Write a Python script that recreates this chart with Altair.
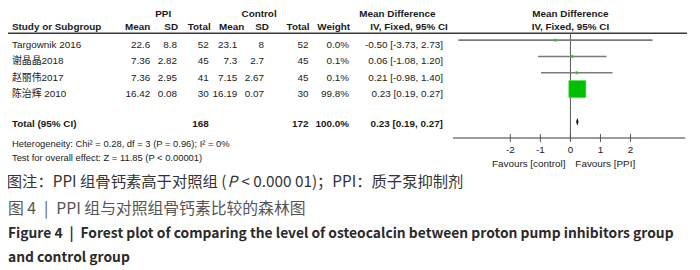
import altair as alt
import pandas as pd

# ---------------- data ----------------
studies   = ["Targownik 2016", "谢晶晶2018", "赵丽伟2017", "陈治辉 2010"]
ppi_mean  = [22.6, 7.36, 7.36, 16.42]
ppi_sd    = [8.8, 2.82, 2.95, 0.08]
ppi_total = [52, 45, 41, 30]
ctl_mean  = [23.1, 7.3, 7.15, 16.19]
ctl_sd    = [8, 2.7, 2.67, 0.07]
ctl_total = [52, 45, 45, 30]
weights   = [0.0, 0.1, 0.1, 99.8]
md        = [-0.50, 0.06, 0.21, 0.23]
ci_low    = [-3.73, -1.08, -0.98, 0.19]
ci_high   = [2.73, 1.20, 1.40, 0.27]

total_ppi, total_ctl = 168, 172
total_weight = 100.0
total_md, total_low, total_high = 0.23, 0.19, 0.27

tick_values = [-2, -1, 0, 1, 2]

heterogeneity = "Heterogeneity: Chi² = 0.28, df = 3 (P = 0.96); I² = 0%"
overall_test = "Test for overall effect: Z = 11.85 (P < 0.00001)"
note_cn_a = "图注：PPI 组骨钙素高于对照组 ("
note_cn_p = "P"
note_cn_b = "< 0.000 01)；PPI：质子泵抑制剂"
title_cn = "图 4\u2002|\u2002PPI 组与对照组骨钙素比较的森林图"
title_en1 = "Figure 4\u2002|\u2002Forest plot of comparing the level of osteocalcin between proton pump inhibitors group"
title_en2 = "and control group"

# ---------------- tables ----------------
def g(v):
    return f"{v:g}"

df = pd.DataFrame({
    "row": list(range(len(studies))),
    "study": studies,
    "pm": [g(v) for v in ppi_mean],
    "ps": [g(v) for v in ppi_sd],
    "pn": [str(v) for v in ppi_total],
    "cm": [g(v) for v in ctl_mean],
    "cs": [g(v) for v in ctl_sd],
    "cn": [str(v) for v in ctl_total],
    "wt": [f"{w:.1f}%" for w in weights],
    "w": weights,
    "ci": [f"{m:.2f} [{l:.2f}, {h:.2f}]" for m, l, h in zip(md, ci_low, ci_high)],
    "x": md,
    "lo": ci_low,
    "hi": ci_high,
})

tot = pd.DataFrame({
    "row": [len(studies) + 1],
    "study": ["Total (95% CI)"],
    "pn": [str(total_ppi)],
    "cn": [str(total_ctl)],
    "wt": [f"{total_weight:.1f}%"],
    "ci": [f"{total_md:.2f} [{total_low:.2f}, {total_high:.2f}]"],
})

DH = 0.25  # half height of diamond in row units
diamond = pd.DataFrame({
    "x": [total_low, total_md, total_high],
    "y": [tot["row"][0], tot["row"][0] - DH, tot["row"][0]],
    "y2": [tot["row"][0], tot["row"][0] + DH, tot["row"][0]],
})

ticks_df = pd.DataFrame({"t": tick_values, "lab": [str(t) for t in tick_values]})

# ---------------- styles ----------------
FONT = "Liberation Sans, Arial, Noto Sans CJK SC, sans-serif"
CJK = "Noto Sans CJK SC, sans-serif"
TXT = "#1a1a1a"
GREEN = "#00c000"
GREY = "#7a7a7a"

W, H = 692, 262
xs = alt.Scale(domain=[-18.717, 4.046], nice=False, zero=False)
ys = alt.Scale(domain=[-1.8788, 14.0], reverse=True, nice=False, zero=False)

one = pd.DataFrame({"k": [0]})


def label(txt, x, y, size=10, weight="normal", align="left", color=TXT, font=FONT, style="normal"):
    return alt.Chart(one).mark_text(
        text=txt, align=align, baseline="middle", fontSize=size,
        fontWeight=weight, color=color, font=font, fontStyle=style
    ).encode(x=alt.value(x), y=alt.value(y))


def col(data, field, x, align="right", weight="normal", dy=5):
    return alt.Chart(data).mark_text(
        align=align, baseline="middle", dy=dy, fontSize=10, font=FONT,
        color=TXT, fontWeight=weight
    ).encode(
        x=alt.value(x),
        y=alt.Y("row:Q", scale=ys, axis=None),
        text=alt.Text(f"{field}:N"),
    )


layers = []

# header texts
HY1, HY2 = 5, 18
layers += [
    label("PPI", 157, HY1, weight="bold", align="center"),
    label("Control", 254, HY1, weight="bold", align="center"),
    label("Mean Difference", 394, HY1, weight="bold", align="center"),
    label("Mean Difference", 569, HY1, weight="bold", align="center"),
    label("Study or Subgroup", 4, HY2, weight="bold"),
    label("Mean", 144, HY2, weight="bold", align="right"),
    label("SD", 172, HY2, weight="bold", align="right"),
    label("Total", 205, HY2, weight="bold", align="right"),
    label("Mean", 239, HY2, weight="bold", align="right"),
    label("SD", 264, HY2, weight="bold", align="right"),
    label("Total", 305, HY2, weight="bold", align="right"),
    label("Weight", 346, HY2, weight="bold", align="right"),
    label("IV, Fixed, 95% CI", 445, HY2, weight="bold", align="right"),
    label("IV, Fixed, 95% CI", 569, HY2, weight="bold", align="center"),
]

# header rule
layers.append(
    alt.Chart(one).mark_rule(color="#3a3a3a", strokeWidth=1.5).encode(
        x=alt.value(0), x2=alt.value(687), y=alt.value(24))
)

# zero line
layers.append(
    alt.Chart(pd.DataFrame({"z": [0]})).mark_rule(color="#555555", strokeWidth=1).encode(
        x=alt.X("z:Q", scale=xs, axis=None), y=alt.value(24), y2=alt.value(130))
)

# study columns
layers += [
    col(df, "study", 4, align="left"),
    col(df, "pm", 144),
    col(df, "ps", 171),
    col(df, "pn", 203),
    col(df, "cm", 232),
    col(df, "cs", 259),
    col(df, "cn", 304),
    col(df, "wt", 345),
    col(df, "ci", 440),
]

# total row
layers += [
    col(tot, "study", 4, align="left", weight="bold", dy=2),
    col(tot, "pn", 203, weight="bold", dy=2),
    col(tot, "cn", 304, weight="bold", dy=2),
    col(tot, "wt", 345, weight="bold", dy=2),
    col(tot, "ci", 440, weight="bold", dy=2),
]

# CI lines
layers.append(
    alt.Chart(df).mark_rule(color=GREY, strokeWidth=1.6).encode(
        x=alt.X("lo:Q", scale=xs, axis=None), x2="hi:Q",
        y=alt.Y("row:Q", scale=ys, axis=None))
)

# squares
layers.append(
    alt.Chart(df).mark_square(color=GREEN, opacity=1, stroke="#55dd55", strokeWidth=0.6).encode(
        x=alt.X("x:Q", scale=xs, axis=None),
        y=alt.Y("row:Q", scale=ys, axis=None),
        size=alt.Size("w:Q", scale=alt.Scale(domain=[0, 100], range=[5, 300]), legend=None))
)

# diamond
layers.append(
    alt.Chart(diamond).mark_area(color="#111111", opacity=1).encode(
        x=alt.X("x:Q", scale=xs, axis=None),
        y=alt.Y("y:Q", scale=ys, axis=None),
        y2="y2:Q")
)

# axis line, ticks, labels
layers.append(
    alt.Chart(pd.DataFrame({"a": [-3.91], "b": [3.82]})).mark_rule(color=GREY, strokeWidth=1.5).encode(
        x=alt.X("a:Q", scale=xs, axis=None), x2="b:Q", y=alt.value(130))
)
layers.append(
    alt.Chart(ticks_df).mark_rule(color="#555555", strokeWidth=1).encode(
        x=alt.X("t:Q", scale=xs, axis=None), y=alt.value(126), y2=alt.value(134))
)
layers.append(
    alt.Chart(ticks_df).mark_text(fontSize=10, font=FONT, color=TXT, baseline="middle").encode(
        x=alt.X("t:Q", scale=xs, axis=None), y=alt.value(142), text="lab:N")
)
layers += [
    label("Favours [control]", 564, 156, align="right"),
    label("Favours [PPI]", 574, 156, align="left"),
]

# footnotes
layers += [
    label(heterogeneity, 4, 136, size=9.5),
    label(overall_test, 4, 150, size=9.5),
]

# captions (note line split so that P can be italic)
NOTE_SIZE = 15.5
NOTE_SPLIT = 221
layers += [
    label(note_cn_a, NOTE_SPLIT, 175, size=NOTE_SIZE, color="#333333", font=CJK, align="right"),
    label(note_cn_p, NOTE_SPLIT + 1, 175, size=NOTE_SIZE, color="#333333", font=CJK, style="italic"),
    label(note_cn_b, NOTE_SPLIT + 15, 175, size=NOTE_SIZE, color="#333333", font=CJK),
    label(title_cn, 0, 202, size=16, color="#555555", font=CJK),
    label(title_en1, 0, 227, size=14, weight="bold", color="#2a2a2a", font=CJK),
    label(title_en2, 0, 251, size=14, weight="bold", color="#2a2a2a", font=CJK),
]

chart = alt.layer(*layers).properties(
    width=W, height=H, padding=0,
    autosize=alt.AutoSizeParams(type="none"),
).configure_view(stroke=None)

chart.save("out.html", embed_options={"renderer": "svg", "actions": False})
